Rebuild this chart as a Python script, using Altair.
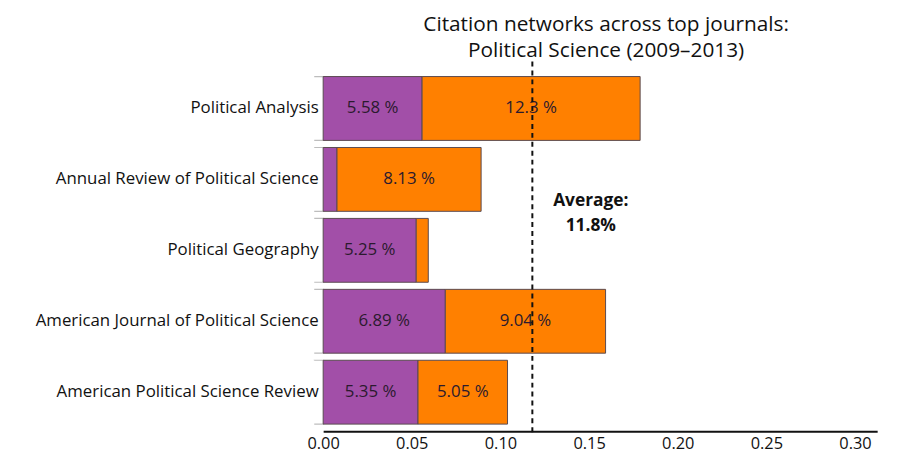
import altair as alt
import pandas as pd

journals = [
    "Political Analysis",
    "Annual Review of Political Science",
    "Political Geography",
    "American Journal of Political Science",
    "American Political Science Review",
]
purple_vals = [0.0558, 0.0078, 0.0525, 0.0689, 0.0535]
orange_vals = [0.123, 0.0813, 0.0068, 0.0904, 0.0505]
purple_labels = ["5.58 %", "", "5.25 %", "6.89 %", "5.35 %"]
orange_labels = ["12.3 %", "8.13 %", "", "9.04 %", "5.05 %"]
average = 0.118
average_text = ["Average:", "11.8%"]
x_ticks = [0.0, 0.05, 0.10, 0.15, 0.20, 0.25, 0.30]

FONT = "Open Sans"
PURPLE = "#a24fa8"
ORANGE = "#ff8000"

rows = []
for j, pv, ov, pl, ol in zip(journals, purple_vals, orange_vals, purple_labels, orange_labels):
    rows.append({"journal": j, "seg": "a", "start": 0.0, "end": pv, "label": pl})
    rows.append({"journal": j, "seg": "b", "start": pv, "end": pv + ov, "label": ol})
df = pd.DataFrame(rows)
df["mid"] = (df["start"] + df["end"]) / 2

W, H = 559, 365

yscale = alt.Scale(domain=journals, paddingInner=0.1, paddingOuter=0.1)
xscale = alt.Scale(domain=[0, 0.3125], nice=False, zero=True)

base = alt.Chart(df)

bars = base.mark_bar(stroke="#5a4a50", strokeWidth=1).encode(
    y=alt.Y("journal:N", scale=yscale, sort=journals,
            axis=alt.Axis(title=None, domain=False, ticks=False, labelFont=FONT,
                          labelFontSize=17, labelColor="#111111", labelPadding=5,
                          labelLimit=400)),
    x=alt.X("start:Q", scale=xscale,
            axis=alt.Axis(title=None, values=x_ticks, format=".2f", ticks=False,
                          grid=False, domainColor="#111111", domainWidth=2,
                          labelFont=FONT, labelFontSize=16.5, labelColor="#111111",
                          labelPadding=4, labelFlush=False)),
    x2="end:Q",
    color=alt.Color("seg:N", scale=alt.Scale(domain=["a", "b"], range=[PURPLE, ORANGE]),
                    legend=None),
)

ticks_df = pd.DataFrame({"journal": journals})
bandw = H / 5.1 * 0.9
edge = alt.Chart(ticks_df).mark_bar(
    fill="transparent", stroke="#bdbdbd", strokeWidth=1.2,
    strokeDash=[10, bandw]
).encode(
    y=alt.Y("journal:N", scale=yscale, sort=journals),
    x=alt.value(-9), x2=alt.value(1),
)

labels = base.mark_text(font=FONT, fontSize=17, color="#2b1a2e").encode(
    y=alt.Y("journal:N", scale=yscale, sort=journals),
    x=alt.X("mid:Q", scale=xscale),
    text="label:N",
)

avg_df = pd.DataFrame({"avg": [average], "journal": [journals[1]],
                       "txt": [average_text]})
rule = alt.Chart(avg_df).mark_rule(strokeDash=[5, 4], strokeWidth=2, color="#111111").encode(
    x=alt.X("avg:Q", scale=xscale),
    y=alt.value(-8), y2=alt.value(H + 5),
)
avg_text = alt.Chart(avg_df).mark_text(
    font=FONT, fontSize=17.5, fontWeight="bold", color="#111111",
    align="center", dx=59, dy=22, lineHeight=25,
).encode(
    x=alt.X("avg:Q", scale=xscale),
    y=alt.Y("journal:N", scale=yscale, sort=journals),
    text="txt",
)

chart = alt.layer(edge, bars, labels, rule, avg_text).properties(
    width=W, height=H,
    title=alt.TitleParams(
        ["Citation networks across top journals:", "Political Science (2009–2013)"],
        font=FONT, fontSize=21, fontWeight="normal", color="#111111",
        anchor="middle", lineHeight=26, offset=0, dx=6,
    ),
    autosize=alt.AutoSizeParams(type="none"),
    padding={"left": 318, "top": 60, "right": 18, "bottom": 23},
).configure_view(stroke=None)

chart.save("out.html", embed_options={"renderer": "svg", "actions": False})
